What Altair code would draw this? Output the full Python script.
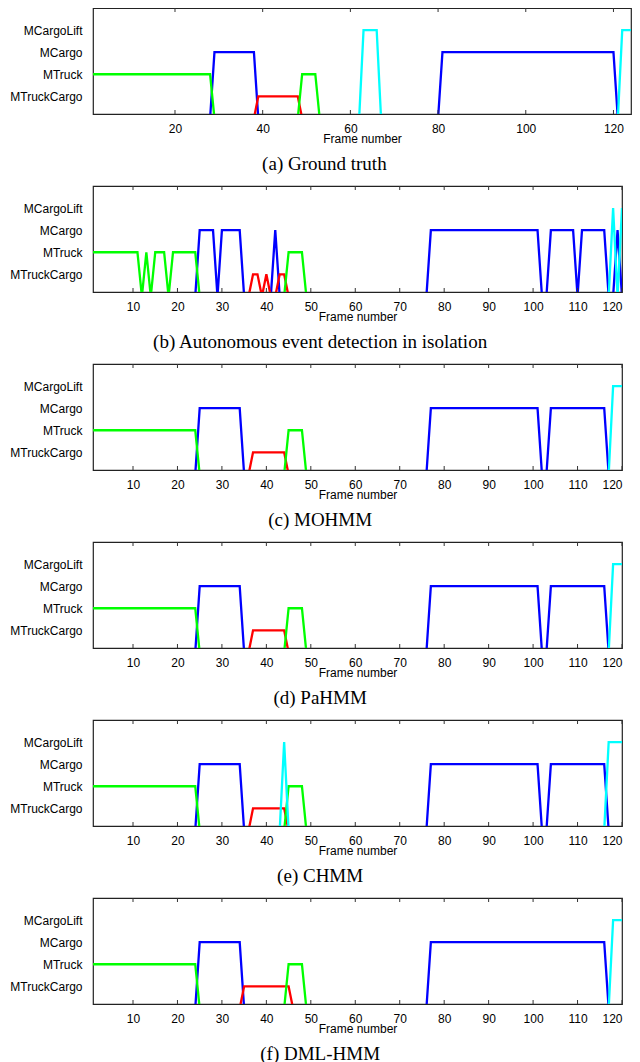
import altair as alt
import pandas as pd

# Event levels, bottom to top (level 1..4); inactive frames sit at 0
EVENTS = ["MTruckCargo", "MTruck", "MCargo", "MCargoLift"]
COLORS = ["#ff0000", "#00ff00", "#0000ff", "#00ffff"]
DRAW_ORDER = ["MCargo", "MTruckCargo", "MTruck", "MCargoLift"]

CAPTIONS = [
    "(a) Ground truth",
    "(b) Autonomous event detection in isolation",
    "(c) MOHMM",
    "(d) PaHMM",
    "(e) CHMM",
    "(f) DML-HMM",
]
N_FRAMES = [124, 120, 120, 120, 120, 120]
X_DOMAINS = [[1.3, 124], [1, 120], [1, 120], [1, 120], [1, 120], [1, 120]]
TICKS_A = [20, 40, 60, 80, 100, 120]
TICKS_B = [10, 20, 30, 40, 50, 60, 70, 80, 90, 100, 110, 120]
X_TICKS = [TICKS_A, TICKS_B, TICKS_B, TICKS_B, TICKS_B, TICKS_B]
WIDTHS = [538, 529, 529, 529, 529, 529]

# active frame intervals (inclusive) per panel and event
a_truck = [(1, 28), (49, 52)]
a_cargo = [(29, 38), (81, 120)]
a_truckcargo = [(39, 48)]
a_cargolift = [(63, 66), (122, 124)]

b_truck = [(1, 11), (13, 13), (15, 17), (19, 24), (45, 48)]
b_cargo = [(25, 28), (30, 34), (42, 42), (77, 101), (104, 109), (111, 116), (119, 119)]
b_truckcargo = [(37, 38), (40, 40), (43, 44)]
b_cargolift = [(118, 118), (120, 120)]

c_truck = [(1, 24), (45, 48)]
c_cargo = [(25, 34), (77, 101), (104, 116)]
c_truckcargo = [(37, 44)]
c_cargolift = [(118, 120)]

d_truck = [(1, 24), (45, 48)]
d_cargo = [(25, 34), (77, 101), (104, 116)]
d_truckcargo = [(37, 44)]
d_cargolift = [(118, 120)]

e_truck = [(1, 24), (45, 48)]
e_cargo = [(25, 34), (77, 101), (104, 116)]
e_truckcargo = [(37, 44)]
e_cargolift = [(44, 44), (117, 120)]

f_truck = [(1, 24), (45, 48)]
f_cargo = [(25, 34), (77, 116)]
f_truckcargo = [(35, 45)]
f_cargolift = [(118, 120)]

PANELS = [
    {"MTruck": a_truck, "MCargo": a_cargo, "MTruckCargo": a_truckcargo, "MCargoLift": a_cargolift},
    {"MTruck": b_truck, "MCargo": b_cargo, "MTruckCargo": b_truckcargo, "MCargoLift": b_cargolift},
    {"MTruck": c_truck, "MCargo": c_cargo, "MTruckCargo": c_truckcargo, "MCargoLift": c_cargolift},
    {"MTruck": d_truck, "MCargo": d_cargo, "MTruckCargo": d_truckcargo, "MCargoLift": d_cargolift},
    {"MTruck": e_truck, "MCargo": e_cargo, "MTruckCargo": e_truckcargo, "MCargoLift": e_cargolift},
    {"MTruck": f_truck, "MCargo": f_cargo, "MTruckCargo": f_truckcargo, "MCargoLift": f_cargolift},
]

H = 106
label_expr = "[" + ", ".join(["''"] + ["'%s'" % e for e in EVENTS]) + "][datum.value]"


def build_panel(i):
    rows = []
    for ev in DRAW_ORDER:
        level = EVENTS.index(ev) + 1
        for f in range(1, N_FRAMES[i] + 1):
            active = any(s <= f <= e for s, e in PANELS[i][ev])
            rows.append({"frame": f, "value": level if active else 0, "event": ev})
    df = pd.DataFrame(rows)

    x_enc = alt.X(
        "frame:Q",
        scale=alt.Scale(domain=X_DOMAINS[i], nice=False, zero=False),
        axis=alt.Axis(values=X_TICKS[i], title="Frame number"),
    )
    lines = alt.Chart(df).mark_line(strokeWidth=2.3, clip=True).encode(
        x=x_enc,
        y=alt.Y(
            "value:Q",
            scale=alt.Scale(domain=[0.2, 5], nice=False, zero=False),
            axis=alt.Axis(values=[1, 2, 3, 4], labelExpr=label_expr, title=None),
        ),
        color=alt.Color(
            "event:N",
            scale=alt.Scale(domain=EVENTS, range=COLORS),
            legend=None,
        ),
    )
    tdf = pd.DataFrame({"frame": X_TICKS[i]})
    bottom_ticks = alt.Chart(tdf).mark_rule(color="#333333", strokeWidth=1).encode(
        x=x_enc, y=alt.value(H), y2=alt.value(H - 4)
    )
    top_ticks = alt.Chart(tdf).mark_rule(color="#333333", strokeWidth=1).encode(
        x=x_enc, y=alt.value(0), y2=alt.value(4)
    )
    return alt.layer(lines, bottom_ticks, top_ticks).properties(
        width=WIDTHS[i],
        height=H,
        title=alt.TitleParams(
            CAPTIONS[i],
            orient="bottom",
            anchor="middle",
            frame="bounds",
            dx=4,
            font="Liberation Serif",
            fontSize=19,
            fontWeight="normal",
            color="black",
            offset=10,
        ),
    )


chart = (
    alt.vconcat(*[build_panel(i) for i in range(6)], spacing=9)
    .properties(padding={"left": 1, "top": -2, "right": 0, "bottom": 0})
    .configure_view(stroke="#222222", strokeWidth=1.2)
    .configure_axis(
        labelFont="Liberation Sans",
        labelFontSize=12,
        labelColor="black",
        titleFont="Liberation Sans",
        titleFontSize=12,
        titleFontWeight="normal",
        titleColor="black",
        grid=False,
        ticks=False,
        domain=False,
    )
    .configure_axisX(labelPadding=9, titlePadding=-0.5)
    .configure_axisY(labelPadding=11)
)

chart.save("out.html", embed_options={"renderer": "svg", "actions": False})
